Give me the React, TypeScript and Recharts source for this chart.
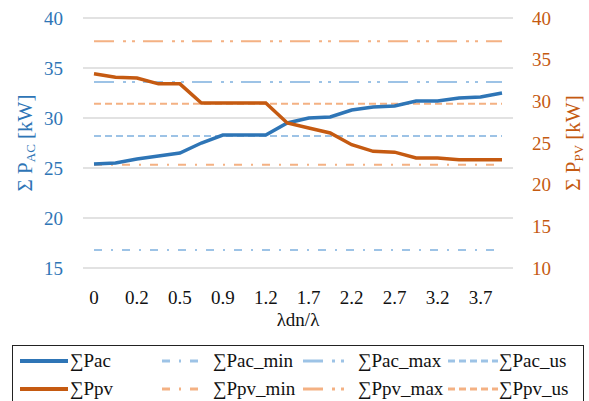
import React from 'react';
import { LineChart, Line, XAxis, YAxis, CartesianGrid } from 'recharts';

// λdn/λ categories (every other one is labelled on the axis)
const categories = ['0', '0.1', '0.2', '0.4', '0.5', '0.7', '0.9', '1.0', '1.2', '1.5', '1.7', '2.0', '2.2', '2.5', '2.7', '3.0', '3.2', '3.5', '3.7', '4.0'];

// ΣPac on the left axis [kW]
const pacValues = [25.4, 25.5, 25.9, 26.2, 26.5, 27.5, 28.3, 28.3, 28.3, 29.5, 30.0, 30.1, 30.8, 31.1, 31.2, 31.7, 31.7, 32.0, 32.1, 32.5];
// ΣPpv on the right axis [kW]
const ppvValues = [33.3, 32.9, 32.8, 32.1, 32.1, 29.8, 29.8, 29.8, 29.8, 27.4, 26.8, 26.2, 24.8, 24.0, 23.9, 23.2, 23.2, 23.0, 23.0, 23.0];

// flat limit series
const PAC_MIN = 16.8;
const PAC_MAX = 33.6;
const PAC_US = 28.2;
const PPV_MIN = 22.4;
const PPV_MAX = 37.2;
const PPV_US = 29.7;

const leftTicks = [15, 20, 25, 30, 35, 40];
const rightTicks = [10, 15, 20, 25, 30, 35, 40];

const data = categories.map((cat, i) => ({
  cat,
  pac: pacValues[i],
  ppv: ppvValues[i],
  pacMin: PAC_MIN,
  pacMax: PAC_MAX,
  pacUs: PAC_US,
  ppvMin: PPV_MIN,
  ppvMax: PPV_MAX,
  ppvUs: PPV_US,
}));

const BLUE = '#2E75B6';
const ORANGE = '#C55A11';
const LIGHT_BLUE = '#9DC3E6';
const LIGHT_ORANGE = '#F4B183';
const FONT = "'Liberation Serif', 'DejaVu Serif', 'Times New Roman', Times, serif";

const DASH_MIN = '8 9 2 9';
const DASH_MAX = '20 9 3 6 3 8';
const DASH_US = '7 4';

const series = [
  { key: 'pac', name: '∑Pac', color: BLUE, axis: 'left', width: 3.5, dash: undefined },
  { key: 'pacMin', name: '∑Pac_min', color: LIGHT_BLUE, axis: 'left', width: 2, dash: DASH_MIN },
  { key: 'pacMax', name: '∑Pac_max', color: LIGHT_BLUE, axis: 'left', width: 2, dash: DASH_MAX },
  { key: 'pacUs', name: '∑Pac_us', color: LIGHT_BLUE, axis: 'left', width: 2, dash: DASH_US },
  { key: 'ppv', name: '∑Ppv', color: ORANGE, axis: 'right', width: 3.5, dash: undefined },
  { key: 'ppvMin', name: '∑Ppv_min', color: LIGHT_ORANGE, axis: 'right', width: 2, dash: DASH_MIN },
  { key: 'ppvMax', name: '∑Ppv_max', color: LIGHT_ORANGE, axis: 'right', width: 2, dash: DASH_MAX },
  { key: 'ppvUs', name: '∑Ppv_us', color: LIGHT_ORANGE, axis: 'right', width: 2, dash: DASH_US },
];

// legend column positions (sample line start, sample length, text start)
const legendCols = [
  { x: 7, len: 48, tx: 57 },
  { x: 149, len: 38, tx: 200 },
  { x: 290, len: 44, tx: 345 },
  { x: 435, len: 50, tx: 486 },
];

function AxisTitle(props: any) {
  const { viewBox, side, sub, color } = props;
  const cx = side === 'left' ? viewBox.x + 25 : viewBox.x + 60;
  const cy = viewBox.y + viewBox.height / 2;
  return (
    <text
      x={cx}
      y={cy}
      transform={`rotate(-90, ${cx}, ${cy})`}
      textAnchor="middle"
      dominantBaseline="central"
      fill={color}
      style={{ fontSize: 21, fontFamily: FONT }}
    >
      <tspan>Σ P</tspan>
      <tspan fontSize={13} dy={5}>{sub}</tspan>
      <tspan dy={-5}> [kW]</tspan>
    </text>
  );
}

function ChartLegend() {
  return (
    <div
      style={{
        position: 'absolute',
        left: 12,
        top: 345,
        width: 572,
        height: 70,
        border: '1.5px solid #222',
        boxSizing: 'border-box',
        fontFamily: FONT,
        fontSize: 19,
        color: '#111',
      }}
    >
      {series.map((s, i) => {
        const col = legendCols[i % 4];
        const rowY = i < 4 ? 15 : 43;
        return (
          <React.Fragment key={s.key}>
            <svg
              style={{ position: 'absolute', left: col.x, top: rowY - 3 }}
              width={col.len}
              height={6}
            >
              <line x1={0} y1={3} x2={col.len} y2={3} stroke={s.color} strokeWidth={s.dash ? 3 : 4} strokeDasharray={s.dash} />
            </svg>
            <span style={{ position: 'absolute', left: col.tx, top: rowY - 12, lineHeight: '24px', whiteSpace: 'nowrap' }}>
              {s.name}
            </span>
          </React.Fragment>
        );
      })}
    </div>
  );
}

const tickStyle = (fill: string) => ({ fill, fontSize: 19, fontFamily: FONT, style: { fontFamily: FONT } });

export default function App() {
  return (
    <div style={{ position: 'absolute', left: 0, top: 0, width: 589, height: 401, background: '#fff', overflow: 'hidden', fontFamily: FONT }}>
      <LineChart width={589} height={401} data={data} margin={{ top: 18, right: 0, bottom: 73, left: 0 }} style={{ fontFamily: FONT }}>
        <CartesianGrid yAxisId="left" horizontal vertical={false} stroke="#d9d9d9" strokeWidth={1.5} />
        <XAxis
          dataKey="cat"
          interval={1}
          padding={{ left: 11, right: 11 }}
          axisLine={false}
          tickLine={false}
          tickSize={0}
          tickMargin={23}
          height={60}
          tick={tickStyle('#111')}
          label={{ value: 'λdn/λ', position: 'insideBottom', offset: 2, fill: '#111', fontSize: 19, style: { fontFamily: FONT } }}
        />
        <YAxis
          yAxisId="left"
          orientation="left"
          domain={[15, 40]}
          ticks={leftTicks}
          width={83}
          axisLine={false}
          tickLine={false}
          tickSize={0}
          tickMargin={20}
          tick={tickStyle(BLUE)}
          label={<AxisTitle side="left" sub="AC" color={BLUE} />}
        />
        <YAxis
          yAxisId="right"
          orientation="right"
          domain={[10, 40]}
          ticks={rightTicks}
          width={76}
          axisLine={false}
          tickLine={false}
          tickSize={0}
          tickMargin={19}
          tick={tickStyle(ORANGE)}
          label={<AxisTitle side="right" sub="PV" color={ORANGE} />}
        />
        {series
          .filter((s) => s.dash)
          .map((s) => (
            <Line
              key={s.key}
              yAxisId={s.axis}
              dataKey={s.key}
              name={s.name}
              stroke={s.color}
              strokeWidth={s.width}
              strokeDasharray={s.dash}
              dot={false}
              activeDot={false}
              isAnimationActive={false}
            />
          ))}
        <Line yAxisId="left" dataKey="pac" name="∑Pac" stroke={BLUE} strokeWidth={3.5} dot={false} activeDot={false} isAnimationActive={false} />
        <Line yAxisId="right" dataKey="ppv" name="∑Ppv" stroke={ORANGE} strokeWidth={3.5} dot={false} activeDot={false} isAnimationActive={false} />
      </LineChart>
      <ChartLegend />
    </div>
  );
}
